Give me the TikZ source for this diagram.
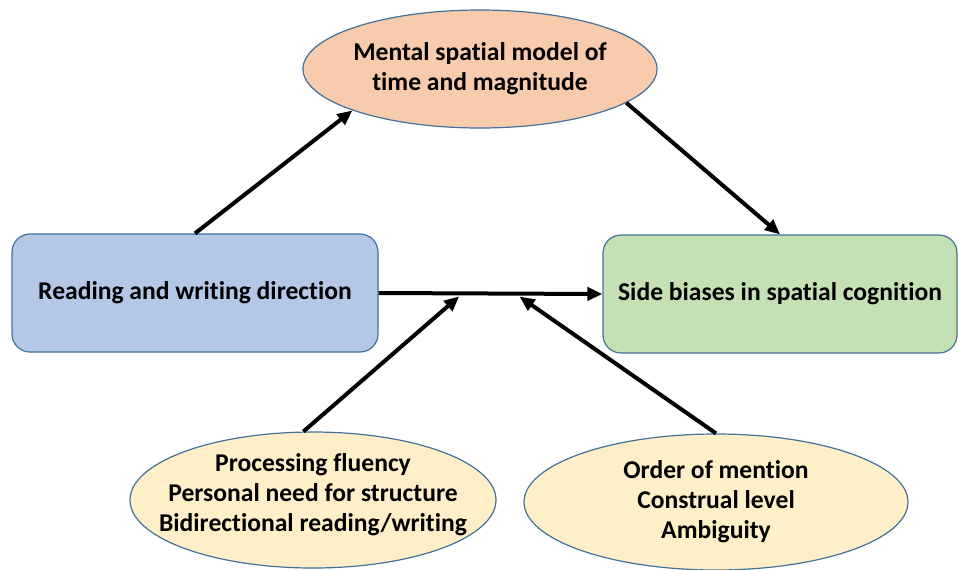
\documentclass[tikz,border=0pt]{standalone}
\usepackage{fontspec}
\setmainfont{Carlito}[Ligatures=NoCommon]
\usepackage{xcolor}
\usetikzlibrary{positioning, arrows.meta, shapes.geometric, calc}

\definecolor{edgeblue}{HTML}{41719C}
\definecolor{peach}{HTML}{F8CBAD}
\definecolor{boxblue}{HTML}{B4C7E7}
\definecolor{boxgreen}{HTML}{C5E0B4}
\definecolor{cream}{HTML}{FFEFC8}

\begin{document}
\begin{tikzpicture}[
  x=0.5pt, y=-0.5pt,
  every node/.style={font=\fontsize{12.8}{15}\selectfont\bfseries},
  box/.style={rectangle, rounded corners=9pt, draw=edgeblue, line width=0.6pt,
              minimum width=183pt, minimum height=59pt, inner sep=3pt},
  oval/.style={ellipse, draw=edgeblue, line width=0.6pt, inner sep=0pt},
  txt/.style={align=center, text=black},
  arr/.style={-{Triangle[length=7.5pt, width=6.5pt]}, line width=2pt}
]
\useasboundingbox (0,0) rectangle (958,569);
% ── main path ──────────────────────────────────
\node[box, fill=boxblue] (rw) at (195,293) {Reading and writing direction};
\node[box, fill=boxgreen, minimum width=177pt] (sb) at (780,294) {Side biases in spatial cognition};
\draw[arr] (rw.east) -- (sb.west);
% ── mediator ───────────────────────────────────
\node[oval, fill=peach, minimum width=177pt, minimum height=59pt,
      label={[txt]center:{Mental spatial model of\\time and magnitude}}] (mental) at (480,69) {};
\draw[arr] (rw.north) -- (mental.198);
\draw[arr] (mental.-13) -- (sb.north);
% ── moderators ─────────────────────────────────
\node[oval, fill=cream, minimum width=183pt, minimum height=68pt,
      label={[txt, yshift=2.5pt]center:{Processing fluency\\Personal need for structure\\Bidirectional reading/writing}}] (fluency) at (313,500) {};
\node[oval, fill=cream, minimum width=192pt, minimum height=68pt,
      label={[txt]center:{Order of mention\\Construal level\\Ambiguity}}] (mention) at (716,502) {};
\coordinate (j1) at ($(rw.east)!0.36!(sb.west) + (0,3)$);
\coordinate (j2) at ($(rw.east)!0.63!(sb.west) + (0,3)$);
\draw[arr] (fluency.98) -- (j1);
\draw[arr] (mention.north) -- (j2);
\end{tikzpicture}
\end{document}
